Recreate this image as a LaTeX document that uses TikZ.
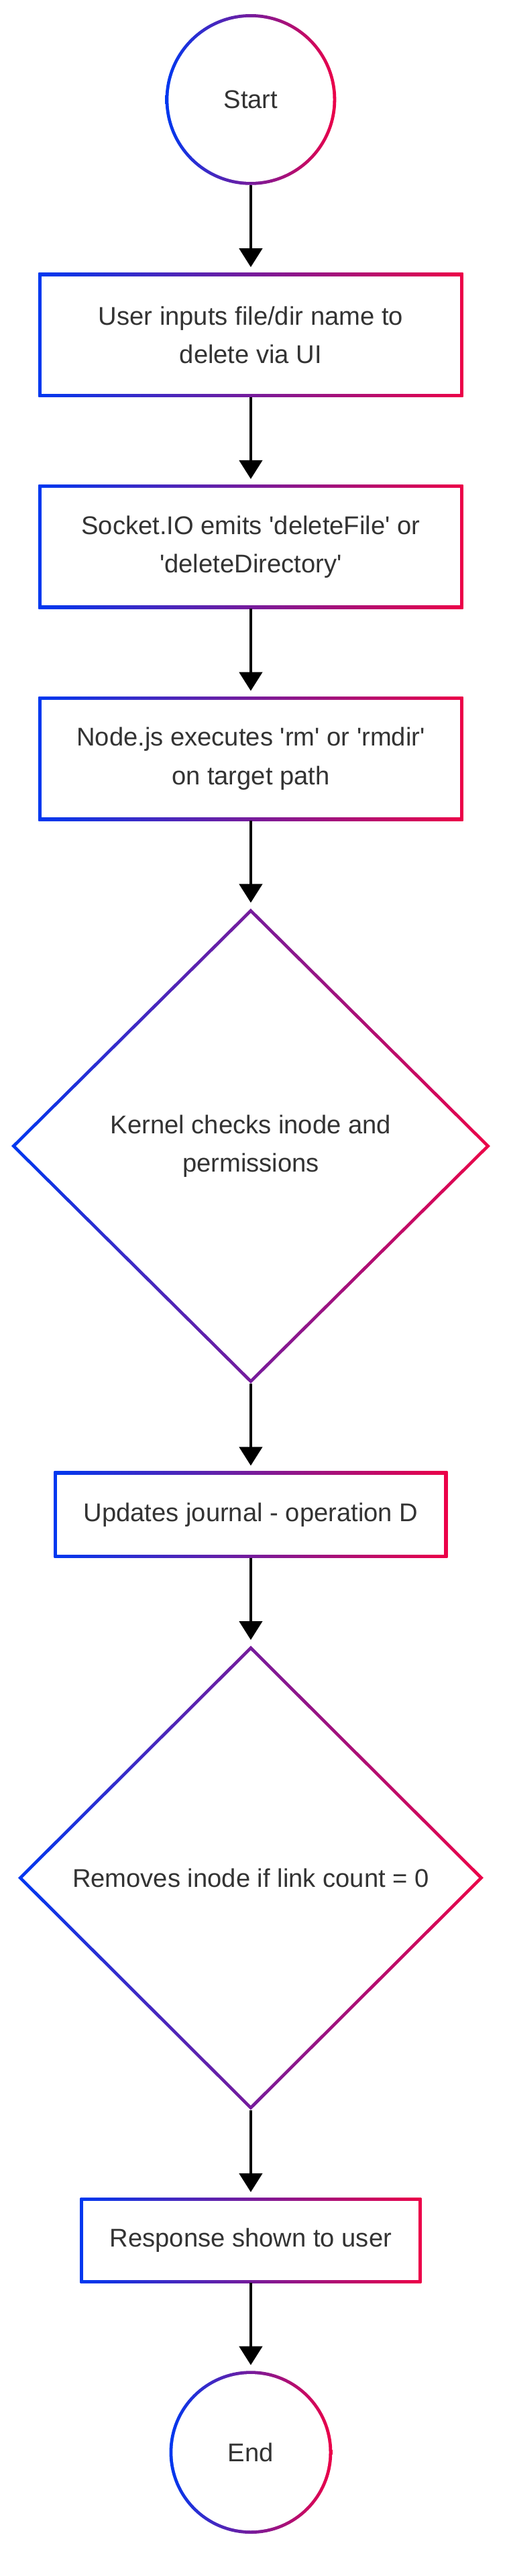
\documentclass[tikz,border=0pt]{standalone}
\usepackage{fontspec}
\newfontfamily\flowfont{Liberation Sans}[Ligatures=TeXOff]
\usetikzlibrary{positioning,arrows.meta,shapes.geometric,calc}
\definecolor{gradblue}{RGB}{0,56,240}
\definecolor{gradred}{RGB}{236,0,72}
\definecolor{txtgray}{RGB}{51,51,51}

\begin{document}
\begin{tikzpicture}[
        font=\flowfont\fontsize{19.1}{28.7}\selectfont,
        node distance=65.5pt,
        arrow/.style={-{Triangle[width=17pt,length=14pt]}, line width=2.4pt, shorten >=4.3pt},
        ring/.style={
            draw=none,
            outer sep=0pt,
            inner sep=0pt,
            left color=gradblue,
            right color=gradred,
            text=txtgray,
            align=center
        },
        process/.style={
            ring, rectangle,
            path picture={
                \fill[white] ([shift={(2.4pt,-2.4pt)}]path picture bounding box.north west)
                    rectangle ([shift={(-2.4pt,2.4pt)}]path picture bounding box.south east);
            }
        },
        terminal/.style={
            ring, circle,
            path picture={
                \fill[white] let \p1=($(path picture bounding box.east)-(path picture bounding box.center)$)
                    in (path picture bounding box.center) circle[radius=\x1-2.4pt];
            }
        },
        decision/.style={
            ring, diamond,
            path picture={
                \fill[white] ([yshift=-3.4pt]path picture bounding box.north)
                    -- ([xshift=-3.4pt]path picture bounding box.east)
                    -- ([yshift=3.4pt]path picture bounding box.south)
                    -- ([xshift=3.4pt]path picture bounding box.west) -- cycle;
            }
        }
    ]

    % Step 1: request from the user
    \node[terminal, minimum size=127.4pt] (start) {Start};
    \node[process, minimum width=316.7pt, minimum height=92.4pt, below=of start] (input) {User inputs file/dir name to\\delete via UI};
    \node[process, minimum width=316.7pt, minimum height=92.4pt, below=of input] (emit) {Socket.IO emits 'deleteFile' or\\'deleteDirectory'};
    \node[process, minimum width=316.7pt, minimum height=92.4pt, below=of emit] (exec) {Node.js executes 'rm' or 'rmdir'\\on target path};

    % Step 2: kernel side
    \node[decision, minimum width=357pt, minimum height=354pt, below=of exec] (check) {Kernel checks inode and\\permissions};
    \node[process, minimum width=293.4pt, minimum height=64.4pt, below=of check] (journal) {Updates journal - operation D};
    \node[decision, minimum width=347pt, minimum height=346pt, below=of journal] (unlink) {Removes inode if link count = 0};

    % Step 3: back to the user
    \node[process, minimum width=254.4pt, minimum height=63.4pt, below=of unlink] (reply) {Response shown to user};
    \node[terminal, minimum size=121.4pt, below=of reply] (end) {End};

    \draw[arrow] (start) -- (input);
    \draw[arrow] (input) -- (emit);
    \draw[arrow] (emit) -- (exec);
    \draw[arrow] (exec) -- (check);
    \draw[arrow] (check) -- (journal);
    \draw[arrow] (journal) -- (unlink);
    \draw[arrow] (unlink) -- (reply);
    \draw[arrow] (reply) -- (end);

    \useasboundingbox ([xshift=-187pt,yshift=10.5pt]start.north) rectangle ([xshift=191pt,yshift=-31.5pt]end.south);

\end{tikzpicture}
\end{document}
